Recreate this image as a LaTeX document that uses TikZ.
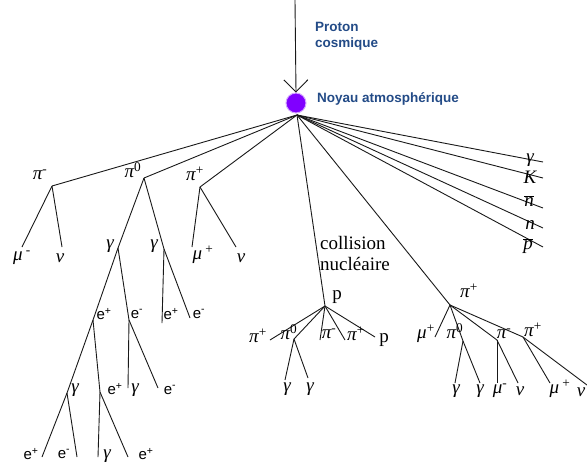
\documentclass[tikz,border=0pt]{standalone}
\usepackage{fontspec}
\setmainfont{Liberation Serif}
\newfontfamily\arialf{Liberation Sans}
\usetikzlibrary{arrows.meta}
\definecolor{lblue}{RGB}{35,75,135}
\definecolor{nucv}{RGB}{128,0,255}
\newcommand{\sps}[1]{\textsuperscript{\upshape #1}}
\begin{document}
\begin{tikzpicture}[x=1pt,y=-1pt,
 ln/.style={line width=0.9pt,draw=black!90},
 gk/.style={inner sep=0pt,font=\fontsize{19}{19}\selectfont\itshape},
 el/.style={inner sep=0pt,font=\arialf\fontsize{15}{15}\selectfont},
 rm/.style={inner sep=0pt,font=\fontsize{19}{19}\selectfont},
 bl/.style={inner sep=0pt,anchor=base west,text=lblue,font=\arialf\bfseries\fontsize{13.5}{16}\selectfont}]
\useasboundingbox[fill=white] (0,0) rectangle (587,467);

% incoming proton and nucleus
\node[circle,fill=nucv,draw=nucv!35!white,line width=1pt,minimum size=20pt,inner sep=0pt] (nuc) at (296,103) {};
\coordinate (src) at (295,0);
\draw[ln,-{Straight Barb[length=12pt,width=24pt]}] (src) -- (nuc.north);
\node[bl] (tproton) at (315,31) {Proton};
\node[bl] (tcosm) at (315,47) {cosmique};
\node[bl] (tnoyau) at (317,102) {Noyau atmosphérique};
\coordinate (v) at (297,115);

% ---- junctions
\coordinate (pim) at (52,186);
\coordinate (pi0) at (144,178);
\coordinate (pip) at (200,187);
\coordinate (mum) at (22,247);
\coordinate (nu1) at (62,247);
\coordinate (g1) at (118,248);
\coordinate (g2) at (164,249);
\coordinate (mup) at (192,247);
\coordinate (nu2) at (236,247);
\coordinate (ep1) at (93,320);
\coordinate (em1) at (129,320);
\coordinate (ep2) at (162,323);
\coordinate (em2) at (190,318);
\coordinate (g3) at (67,393);
\coordinate (ep3) at (100,392);
\coordinate (e4) at (42,457);
\coordinate (e5) at (77,457);
\coordinate (g4) at (98,457);
\coordinate (e6) at (128,457);
\coordinate (g5) at (128,388);
\coordinate (e7) at (158,388);

% middle
\coordinate (pc) at (325,306);
\coordinate (m1) at (270,340);
\coordinate (m2) at (294,339);
\coordinate (m3) at (320,340);
\coordinate (m4) at (345,340);
\coordinate (m5) at (375,337);
\coordinate (mg1) at (285,380);
\coordinate (mg2) at (308,378);

% right branch
\coordinate (rp) at (450,305);
\coordinate (r1) at (435,337);
\coordinate (r2) at (463,341);
\coordinate (r3) at (497,340);
\coordinate (r4) at (523,337);
\coordinate (rg1) at (455,383);
\coordinate (rg2) at (480,383);
\coordinate (rmu) at (497,383);
\coordinate (rnu) at (518,383);
\coordinate (rmu2) at (550,383);
\coordinate (rnu2) at (587,385);

% far right fan
\coordinate (f1) at (543,162);
\coordinate (f2) at (543,178);
\coordinate (f3) at (543,208);
\coordinate (f4) at (543,228);
\coordinate (f5) at (543,247);

% ---- lines
\draw[ln] (v) -- (pim);
\draw[ln] (v) -- (pi0);
\draw[ln] (v) -- (pip);
\draw[ln] (v) -- (pc);
\draw[ln] (v) -- (rp);
\foreach \f in {f1,f2,f3,f4,f5} \draw[ln] (v) -- (\f);

\draw[ln] (pim) -- (mum);
\draw[ln] (pim) -- (nu1);
\draw[ln] (pi0) -- (g1);
\draw[ln] (pi0) -- (g2);
\draw[ln] (pip) -- (mup);
\draw[ln] (pip) -- (nu2);
\draw[ln] (g1) -- (ep1);
\draw[ln] (g1) -- (em1);
\draw[ln] (g2) -- (ep2);
\draw[ln] (g2) -- (em2);
\draw[ln] (ep1) -- (g3);
\draw[ln] (ep1) -- (ep3);
\draw[ln] (g3) -- (e4);
\draw[ln] (g3) -- (e5);
\draw[ln] (ep3) -- (g4);
\draw[ln] (ep3) -- (e6);
\draw[ln] (em1) -- (g5);
\draw[ln] (em1) -- (e7);

\foreach \m in {m1,m2,m3,m4,m5} \draw[ln] (pc) -- (\m);
\draw[ln] (m2) -- (mg1);
\draw[ln] (m2) -- (mg2);

\foreach \r in {r1,r2,r3,r4} \draw[ln] (rp) -- (\r);
\draw[ln] (r2) -- (rg1);
\draw[ln] (r2) -- (rg2);
\draw[ln] (r3) -- (rmu);
\draw[ln] (r3) -- (rnu);
\draw[ln] (r4) -- (rmu2);
\draw[ln] (r4) -- (rnu2);

% ---- labels left
\node[gk] (lpim) at (40,175) {π\sps{-}};
\node[gk] (lpi0) at (133,170) {π\sps{0}};
\node[gk] (lpip) at (195,174) {π\sps{+}};
\node[gk] (lmum) at (22,258) {μ\,\sps{-}};
\node[gk] (lnu1) at (60,258) {ν};
\node[gk] (lg1) at (110,246) {γ};
\node[gk] (lg2) at (154,246) {γ};
\node[gk] (lmup) at (203,255) {μ\,\sps{+}};
\node[gk] (lnu2) at (241,258) {ν};
\node[el] (lep1) at (104,314) {e\sps{+}};
\node[el] (lem1) at (137,314) {e\sps{-}};
\node[el] (lep2) at (171,314) {e\sps{+}};
\node[el] (lem2) at (199,314) {e\sps{-}};
\node[gk] (lg3) at (75,390) {γ};
\node[el] (lep3) at (115,389) {e\sps{+}};
\node[gk] (lg5) at (135,390) {γ};
\node[el] (le7) at (170,390) {e\sps{-}};
\node[el] (le4) at (31,454) {e\sps{+}};
\node[el] (le5) at (64,454) {e\sps{-}};
\node[gk] (lg4) at (107,456) {γ};
\node[el] (le6) at (146,454) {e\sps{+}};

% ---- labels middle
\node[inner sep=0pt,anchor=north west,align=left,font=\fontsize{19}{21}\selectfont] (coll) at (320,236) {collision\\nucléaire};
\node[rm] (lp) at (337,297) {p};
\node[gk] (lm1) at (258,336) {π\sps{+}};
\node[gk] (lm2) at (289,332) {π\sps{0}};
\node[gk] (lm3) at (329,334) {π\sps{-}};
\node[gk] (lm4) at (356,334) {π\sps{+}};
\node[rm] (lm5) at (384,340) {p};
\node[gk] (lmg1) at (287,389) {γ};
\node[gk] (lmg2) at (310,389) {γ};

% ---- labels right branch
\node[gk] (lrp) at (469,291) {π\sps{+}};
\node[gk] (lr1) at (426,334) {μ\sps{+}};
\node[gk] (lr2) at (455,331) {π\sps{0}};
\node[gk] (lr3) at (504,334) {π\sps{-}};
\node[gk] (lr4) at (533,330) {π\sps{+}};
\node[gk] (lrg1) at (456,391) {γ};
\node[gk] (lrg2) at (480,391) {γ};
\node[gk] (lrmu) at (500,391) {μ\sps{-}};
\node[gk] (lrnu) at (520,391) {ν};
\node[gk] (lrmu2) at (560,389) {μ\,\sps{+}};
\node[gk] (lrnu2) at (581,392) {ν};

% ---- labels far right
\node[gk] (lf1) at (530,160) {γ};
\node[gk] (lf2) at (530,177) {K};
\node[gk] (lf3) at (529,201) {$\overline{\mbox{\itshape n}}$};
\node[gk] (lf4) at (530,225) {n};
\node[gk] (lf5) at (528,246) {$\overline{\mbox{\itshape p}}$};
\end{tikzpicture}
\end{document}
